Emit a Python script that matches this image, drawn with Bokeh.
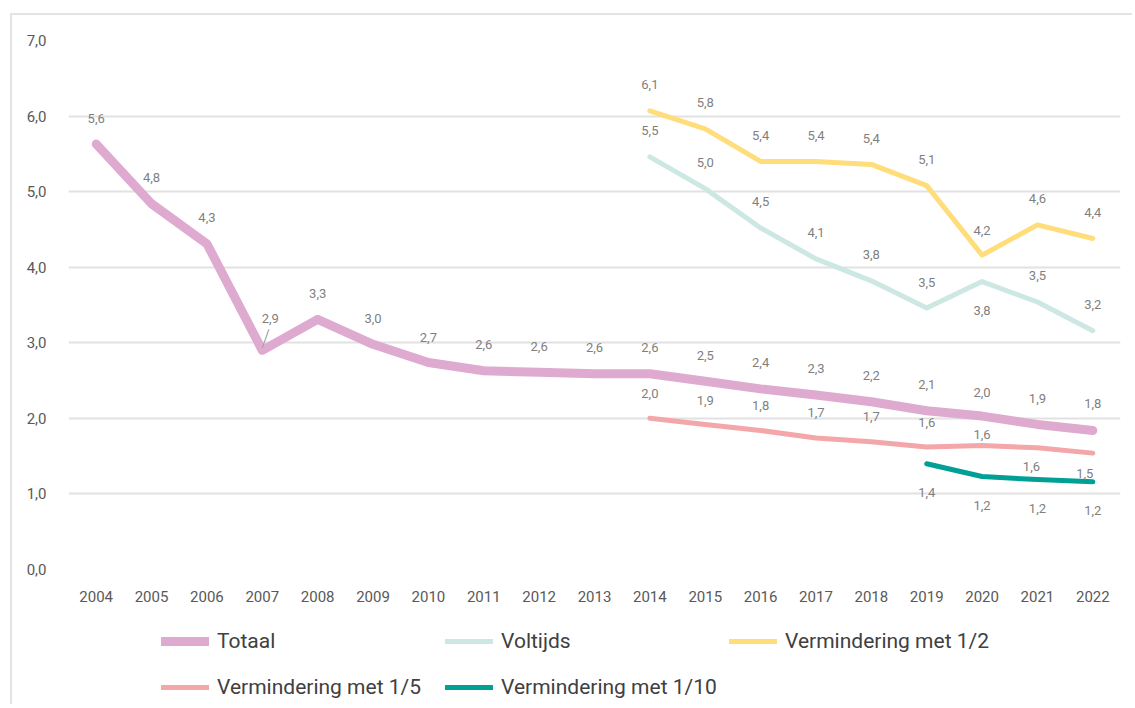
from bokeh.plotting import figure
from bokeh.layouts import column
from bokeh.models import (FactorRange, Range1d, SingleIntervalTicker, CustomJSTickFormatter,
                          Legend, LegendItem, ColumnDataSource)
from bokeh.transform import dodge
from bokeh.core.properties import value
from bokeh.embed import file_html
from bokeh.resources import INLINE

# ---------------- data ----------------
years = [str(y) for y in range(2004, 2023)]
years_2014 = [str(y) for y in range(2014, 2023)]
years_2019 = [str(y) for y in range(2019, 2023)]

totaal = [5.63, 4.84, 4.31, 2.90, 3.31, 2.98, 2.74, 2.63, 2.61, 2.59,
          2.59, 2.49, 2.39, 2.31, 2.22, 2.10, 2.03, 1.92, 1.84]
voltijds = [5.46, 5.04, 4.52, 4.11, 3.82, 3.46, 3.81, 3.54, 3.16]
verm_half = [6.07, 5.83, 5.40, 5.40, 5.36, 5.08, 4.16, 4.56, 4.38]
verm_vijfde = [2.00, 1.92, 1.84, 1.74, 1.69, 1.62, 1.64, 1.61, 1.54]
verm_tiende = [1.40, 1.23, 1.19, 1.16]

series_names = ["Totaal", "Voltijds", "Vermindering met 1/2",
                "Vermindering met 1/5", "Vermindering met 1/10"]

# ---------------- styles ----------------
FONT = "Roboto"
colors = ["#DEAACF", "#CDE8E3", "#FFDD7A", "#F4A7A9", "#00A096"]
widths = [9, 5, 5, 5, 5]

# data-label screen offsets (dx, dy) per point
lbl_dy_tot = [-26, -26, -26, -32, -26, -26, -25, -26, -26, -26,
              -26, -26, -26, -26, -26, -26, -24, -26, -27]
lbl_dx_tot = [0, 0, 0, 8, 0, 0, 0, 0, 0, 0, 0, 0, 0, 0, 0, 0, 0, 0, 0]
lbl_dy_vol = [-26, -26, -26, -26, -26, -26, 29, -26, -26]
lbl_dy_half = [-26, -26, -26, -26, -26, -26, -25, -26, -26]
lbl_dy_vijf = [-25, -24, -25, -26, -25, -25, -11, 19, 20]
lbl_dx_vijf = [0, 0, 0, 0, 0, 0, 0, -6, -8]
lbl_dy_tien = [29, 29, 29, 29]


def fmt(v):
    return f"{v:.1f}".replace(".", ",")


p = figure(x_range=FactorRange(*years), y_range=Range1d(0, 7),
           width=1120, height=594, output_backend="svg", toolbar_location=None,
           min_border_left=56, min_border_right=12, min_border_top=25, min_border_bottom=40)
p.outline_line_color = None
p.background_fill_color = "white"

p.xgrid.visible = False
p.ygrid.grid_line_color = "#e2e2e2"
p.ygrid.grid_line_width = 2

p.yaxis.ticker = SingleIntervalTicker(interval=1)
p.yaxis.formatter = CustomJSTickFormatter(code="return tick.toFixed(1).replace('.', ',');")
for ax in (p.xaxis[0], p.yaxis[0]):
    ax.axis_line_color = None
    ax.major_tick_line_color = None
    ax.minor_tick_line_color = None
    ax.major_label_text_font = FONT
    ax.major_label_text_font_size = "15px"
    ax.major_label_text_color = "#595959"
p.yaxis.major_label_standoff = 16
p.xaxis.major_label_standoff = 15

data_sets = [
    (years, totaal, lbl_dx_tot, lbl_dy_tot),
    (years_2014, voltijds, [0] * 9, lbl_dy_vol),
    (years_2014, verm_half, [0] * 9, lbl_dy_half),
    (years_2014, verm_vijfde, lbl_dx_vijf, lbl_dy_vijf),
    (years_2019, verm_tiende, [0] * 4, lbl_dy_tien),
]
draw_order = [1, 2, 3, 4, 0]
for i in draw_order:
    xs, ys, dx, dy = data_sets[i]
    p.line(xs, ys, line_color=colors[i], line_width=widths[i],
           line_join="round", line_cap="round")

# leader line for 2007 label
src_lead = ColumnDataSource(dict(x=[years[3]], y0=[totaal[3] + 0.03], y1=[totaal[3] + 0.28]))
p.segment(x0=dodge("x", 0.0, range=p.x_range), y0="y0",
          x1=dodge("x", 0.12, range=p.x_range), y1="y1",
          source=src_lead, line_color="#a6a6a6", line_width=1.2)

for i in range(5):
    xs, ys, dx, dy = data_sets[i]
    src = ColumnDataSource(dict(x=xs, y=ys, t=[fmt(v) for v in ys], dx=dx, dy=dy))
    p.text(x="x", y="y", text="t", x_offset="dx", y_offset="dy", source=src,
           text_align="center", text_baseline="middle",
           text_font=value(FONT), text_font_size="13px", text_color="#7f7f7f")

# ---------------- legend figure ----------------
q = figure(width=1120, height=95, x_range=Range1d(0, 1), y_range=Range1d(0, 1),
           output_backend="svg", toolbar_location=None, min_border=0,
           x_axis_location=None, y_axis_location=None)
q.grid.visible = False
q.outline_line_color = None
# legend-only renderers, kept outside the visible range of q
leg_rends = [q.line(x=[5, 6], y=[5, 6], line_color=colors[i], line_width=widths[i], line_cap="round")
             for i in range(5)]

common = dict(orientation="horizontal", glyph_width=48, glyph_height=30, label_height=30,
              label_standoff=8, label_width=212, spacing=16, padding=0, margin=0,
              border_line_color=None, background_fill_alpha=0,
              label_text_font=FONT, label_text_font_size="21px",
              label_text_color="#404040")
leg1 = Legend(items=[LegendItem(label=series_names[k], renderers=[leg_rends[k]]) for k in (0, 1, 2)],
              location=(93, 48), **common)
leg2 = Legend(items=[LegendItem(label=series_names[k], renderers=[leg_rends[k]]) for k in (3, 4)],
              location=(93, 2), **common)
q.add_layout(leg1)
q.add_layout(leg2)

layout = column(p, q, spacing=0)
layout.margin = (13, 0, 0, 10)
layout.styles = {"border-left": "2px solid #e4e4e4", "border-top": "2px solid #e4e4e4"}

open("out.html", "w").write(file_html(layout, INLINE))
